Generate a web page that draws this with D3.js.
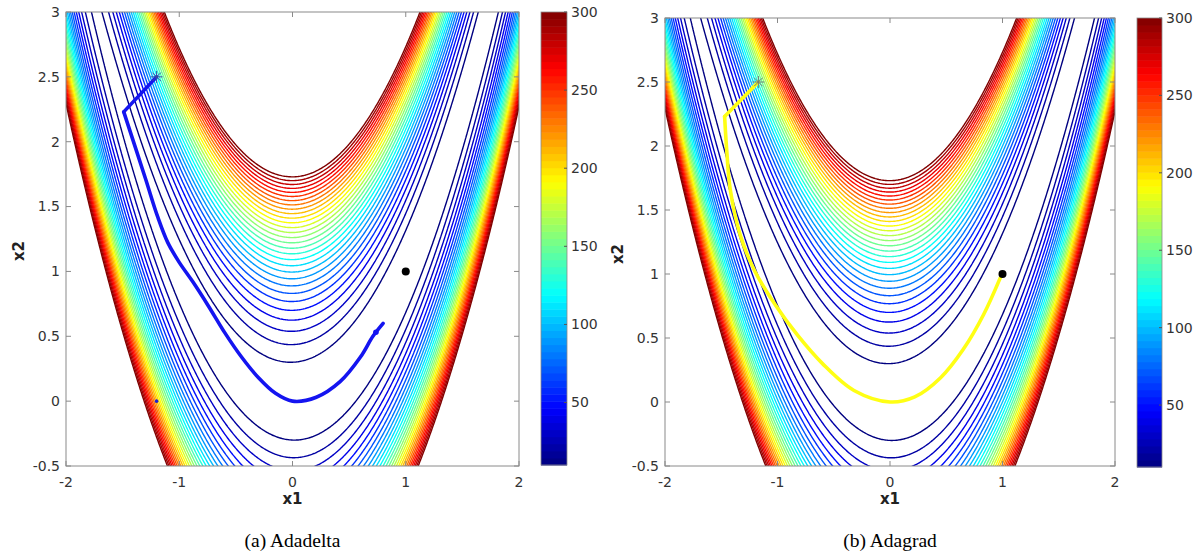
<!DOCTYPE html>
<html>
<head>
<meta charset="utf-8">
<script src="https://cdn.jsdelivr.net/npm/d3@7"></script>
<style>
  body { margin: 0; background: #fff; }
  svg { display: block; font-family: "DejaVu Sans", sans-serif; }
</style>
</head>
<body>
<svg id="chart" width="1201" height="554"></svg>
<script>
// ---- data ----
const xTicks = [-2, -1, 0, 1, 2];
const yTicks = [-0.5, 0, 0.5, 1, 1.5, 2, 2.5, 3];
const colorTicks = [50, 100, 150, 200, 250, 300];
const colorDomain = [10, 300];
const levels = [10, 20, 30, 40, 50, 60, 70, 80, 90, 100, 110, 120, 130, 140, 150,
                160, 170, 180, 190, 200, 210, 220, 230, 240, 250, 260, 270, 280, 290, 300];

// optimizer trajectories [x1, x2]: start, corner, then the run along the valley
const adadeltaPath = [
  [-1.2, 2.5], [-1.49, 2.23], [-1.3, 1.72], [-1.19, 1.42], [-1.1, 1.22], [-1.0, 1.07],
  [-0.88, 0.92], [-0.74, 0.73], [-0.6, 0.53], [-0.45, 0.34], [-0.3, 0.18], [-0.15, 0.06], [0, 0],
  [0.21, 0.03], [0.42, 0.15], [0.6, 0.34], [0.71, 0.5], [0.8, 0.6]
];
const adagradPath = [
  [-1.17, 2.5], [-1.47, 2.23], [-1.45, 1.95], [-1.42, 1.66], [-1.33, 1.3], [-1.2, 1.02],
  [-1.02, 0.76], [-0.82, 0.52], [-0.6, 0.3], [-0.32, 0.09], [0, 0],
  [0.22, 0.04], [0.45, 0.19], [0.65, 0.41], [0.83, 0.68], [0.98, 0.97]
];
const minimum = [1, 1];
const adadeltaStray = [-1.2, 0];

const captions = ['(a) Adadelta', '(b) Adagrad'];

// ---- layout ----
const panels = [
  { plot: { x0: 66, x1: 519, y0: 12, y1: 466 }, bar: { x: 541, w: 26, y0: 12, y1: 465 },
    path: adadeltaPath, pathColor: '#1414f0', starColor: '#3a4ea0', caption: captions[0], stray: true },
  { plot: { x0: 665, x1: 1115, y0: 18, y1: 466 }, bar: { x: 1137, w: 25, y0: 18, y1: 467 },
    path: adagradPath, pathColor: '#ffff14', starColor: '#6f7f74', caption: captions[1], stray: false }
];

const svg = d3.select('#chart');

// jet colormap
function jet (t) {
  const c = (v) => Math.round(255 * Math.max(0, Math.min(1, v)));
  return `rgb(${c(1.5 - Math.abs(4 * t - 3))},${c(1.5 - Math.abs(4 * t - 2))},${c(1.5 - Math.abs(4 * t - 1))})`;
}
const colorT = d3.scaleLinear().domain(colorDomain).range([0, 1]).clamp(true);

// the plotted surface (Rosenbrock), sampled a bit past the axes so that the
// grid border of every contour ring falls outside the clip
const step = 0.01;
const gx0 = -2.1, gx1 = 2.1, gy0 = -0.6, gy1 = 3.1;
const nx = Math.round((gx1 - gx0) / step) + 1;
const ny = Math.round((gy1 - gy0) / step) + 1;
const grid = new Float64Array(nx * ny);
for (let j = 0; j < ny; j++) {
  for (let i = 0; i < nx; i++) {
    const a = gx0 + i * step, b = gy0 + j * step;
    grid[i + j * nx] = (1 - a) * (1 - a) + 100 * (b - a * a) * (b - a * a);
  }
}
const rings = d3.contours().size([nx, ny]).thresholds(levels)(grid);

panels.forEach((p, k) => {
  const x = d3.scaleLinear().domain([-2, 2]).range([p.plot.x0, p.plot.x1]);
  const y = d3.scaleLinear().domain([-0.5, 3]).range([p.plot.y1, p.plot.y0]);
  const g = svg.append('g');

  const clipId = 'clip' + k;
  g.append('clipPath').attr('id', clipId).append('rect')
    .attr('x', p.plot.x0).attr('y', p.plot.y0)
    .attr('width', p.plot.x1 - p.plot.x0).attr('height', p.plot.y1 - p.plot.y0);

  const proj = d3.geoTransform({
    point: function (px, py) {
      this.stream.point(x(gx0 + (px - 0.5) * step), y(gy0 + (py - 0.5) * step));
    }
  });
  const geo = d3.geoPath(proj);

  const inner = g.append('g').attr('clip-path', `url(#${clipId})`);
  inner.selectAll('path.level')
    .data(rings)
    .join('path')
    .attr('class', 'level')
    .attr('d', geo)
    .attr('fill', 'none')
    .attr('stroke', (d) => jet(colorT(d.value)))
    .attr('stroke-width', 1.4);

  // trajectory: straight first step, smooth afterwards
  const straight = d3.line().x((d) => x(d[0])).y((d) => y(d[1]));
  const smooth = d3.line().x((d) => x(d[0])).y((d) => y(d[1])).curve(d3.curveCatmullRom.alpha(0.5));
  [straight(p.path.slice(0, 2)), smooth(p.path.slice(1))].forEach((d) => {
    inner.append('path')
      .attr('d', d)
      .attr('fill', 'none')
      .attr('stroke', p.pathColor)
      .attr('stroke-width', 3.6)
      .attr('stroke-linejoin', 'round')
      .attr('stroke-linecap', 'round');
  });

  // start marker (asterisk)
  const s = p.path[0];
  const star = inner.append('g').attr('transform', `translate(${x(s[0])},${y(s[1])})`);
  [0, 45, 90, 135].forEach((ang) => {
    const r = 6, t = ang * Math.PI / 180;
    star.append('line')
      .attr('x1', -r * Math.cos(t)).attr('y1', -r * Math.sin(t))
      .attr('x2', r * Math.cos(t)).attr('y2', r * Math.sin(t))
      .attr('stroke', p.starColor).attr('stroke-width', 1);
  });

  if (p.stray) {
    inner.append('circle')
      .attr('cx', x(adadeltaStray[0])).attr('cy', y(adadeltaStray[1]))
      .attr('r', 1.8).attr('fill', '#2020d0');
    // small blob where the adadelta run stops
    const e = p.path[p.path.length - 2];
    inner.append('circle')
      .attr('cx', x(e[0]) + 3).attr('cy', y(e[1]) - 4)
      .attr('r', 2.8).attr('fill', p.pathColor);
  }

  inner.append('circle')
    .attr('cx', x(minimum[0])).attr('cy', y(minimum[1]))
    .attr('r', 4).attr('fill', '#000');

  // box + ticks (MATLAB style: ticks inside, on all four sides)
  const axisColor = '#8a8a8a';
  g.append('rect')
    .attr('x', p.plot.x0).attr('y', p.plot.y0)
    .attr('width', p.plot.x1 - p.plot.x0).attr('height', p.plot.y1 - p.plot.y0)
    .attr('fill', 'none').attr('stroke', axisColor).attr('stroke-width', 1);
  const tl = 5;
  xTicks.forEach((v) => {
    g.append('line').attr('x1', x(v)).attr('x2', x(v)).attr('y1', p.plot.y1).attr('y2', p.plot.y1 - tl)
      .attr('stroke', axisColor);
    g.append('line').attr('x1', x(v)).attr('x2', x(v)).attr('y1', p.plot.y0).attr('y2', p.plot.y0 + tl)
      .attr('stroke', axisColor);
    g.append('text').attr('x', x(v)).attr('y', p.plot.y1 + 21)
      .attr('text-anchor', 'middle').attr('font-size', 14).attr('fill', '#333')
      .text(v);
  });
  yTicks.forEach((v) => {
    g.append('line').attr('x1', p.plot.x0).attr('x2', p.plot.x0 + tl).attr('y1', y(v)).attr('y2', y(v))
      .attr('stroke', axisColor);
    g.append('line').attr('x1', p.plot.x1).attr('x2', p.plot.x1 - tl).attr('y1', y(v)).attr('y2', y(v))
      .attr('stroke', axisColor);
    g.append('text').attr('x', p.plot.x0 - 6).attr('y', y(v)).attr('dy', '0.35em')
      .attr('text-anchor', 'end').attr('font-size', 14).attr('fill', '#333')
      .text(v);
  });

  const cx = (p.plot.x0 + p.plot.x1) / 2;
  g.append('text').attr('x', cx).attr('y', p.plot.y1 + 38)
    .attr('text-anchor', 'middle').attr('font-size', 15).attr('font-weight', 'bold').attr('fill', '#222')
    .text('x1');
  g.append('text')
    .attr('transform', `translate(${p.plot.x0 - 42},${(p.plot.y0 + p.plot.y1) / 2 + 12}) rotate(-90)`)
    .attr('text-anchor', 'middle').attr('font-size', 15).attr('font-weight', 'bold').attr('fill', '#222')
    .text('x2');

  g.append('text').attr('x', cx).attr('y', 547)
    .attr('text-anchor', 'middle').attr('font-size', 19.5)
    .attr('font-family', '"Liberation Serif", "Times New Roman", serif').attr('fill', '#000')
    .text(p.caption);

  // colorbar
  const c = d3.scaleLinear().domain(colorDomain).range([p.bar.y1, p.bar.y0]);
  const nBands = 64;
  const bands = d3.range(nBands);
  g.selectAll('rect.band')
    .data(bands)
    .join('rect')
    .attr('class', 'band')
    .attr('x', p.bar.x).attr('width', p.bar.w)
    .attr('y', (i) => c(colorDomain[0] + (i + 1) * (colorDomain[1] - colorDomain[0]) / nBands))
    .attr('height', (p.bar.y1 - p.bar.y0) / nBands + 0.5)
    .attr('fill', (i) => jet((i + 0.5) / nBands));
  g.append('rect')
    .attr('x', p.bar.x).attr('y', p.bar.y0).attr('width', p.bar.w).attr('height', p.bar.y1 - p.bar.y0)
    .attr('fill', 'none').attr('stroke', axisColor).attr('stroke-width', 0.8);
  colorTicks.forEach((v) => {
    g.append('line').attr('x1', p.bar.x + p.bar.w).attr('x2', p.bar.x + p.bar.w - 3)
      .attr('y1', c(v)).attr('y2', c(v)).attr('stroke', '#555');
    g.append('text').attr('x', p.bar.x + p.bar.w + 4).attr('y', c(v)).attr('dy', '0.35em')
      .attr('font-size', 14).attr('fill', '#333').text(v);
  });
});
</script>
</body>
</html>
